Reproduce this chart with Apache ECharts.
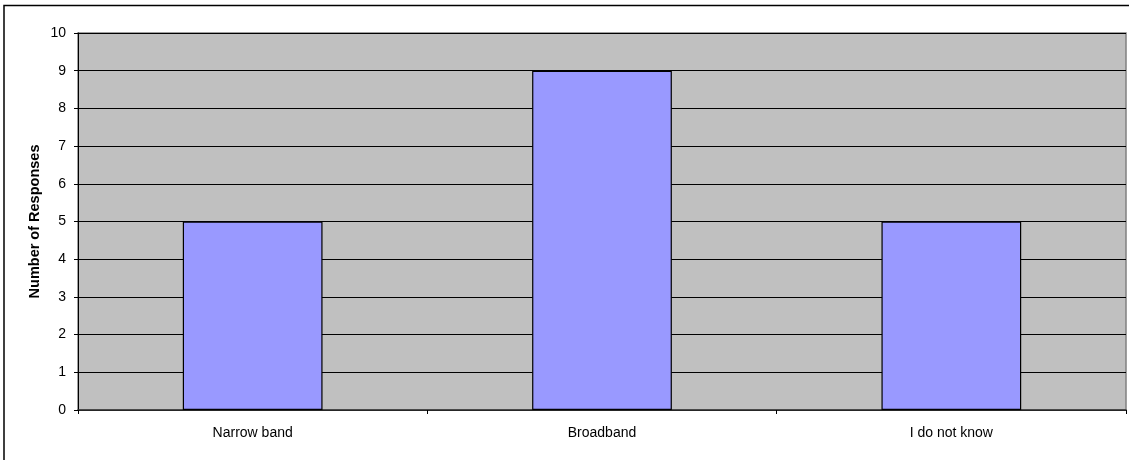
<!DOCTYPE html>
<html>
<head>
<meta charset="utf-8">
<script src="https://cdn.jsdelivr.net/npm/echarts@6/dist/echarts.min.js"></script>
<style>
  html, body { margin: 0; padding: 0; background: #fff; }
  #chart { width: 1129px; height: 460px; }
</style>
</head>
<body>
<div id="chart"></div>
<script>
// Survey responses by connection type
const categories = ['Narrow band', 'Broadband', 'I do not know'];
const responses = [5, 9, 5];
const yTicks = { min: 0, max: 10, interval: 1 };

const chart = echarts.init(document.getElementById('chart'), null, { renderer: 'canvas' });

chart.setOption({
  animation: false,
  backgroundColor: '#ffffff',
  textStyle: { fontFamily: 'Liberation Sans, Arial, sans-serif' },
  graphic: [{
    type: 'rect',
    shape: { x: 4, y: 5.5, width: 1140, height: 470 },
    style: { fill: 'none', stroke: '#000', lineWidth: 1.5 },
    silent: true,
    z: -1
  }],
  grid: {
    left: 78, right: 3, top: 33, bottom: 50,
    show: true,
    backgroundColor: '#C0C0C0',
    borderColor: '#808080',
    borderWidth: 1.5
  },
  xAxis: {
    type: 'category',
    data: categories,
    axisLine: { show: true, lineStyle: { color: '#333', width: 1.5 } },
    axisTick: { show: true, length: 4, inside: false, alignWithLabel: false, lineStyle: { color: '#000' } },
    axisLabel: { color: '#000', fontSize: 14, margin: 16 }
  },
  yAxis: {
    type: 'value',
    min: yTicks.min, max: yTicks.max, interval: yTicks.interval,
    name: 'Number of Responses',
    nameLocation: 'middle',
    nameGap: 36,
    nameMoveOverlap: false,
    nameTextStyle: { color: '#000', fontSize: 14.5, fontWeight: 'bold' },
    axisLine: { show: true, lineStyle: { color: '#000', width: 1 } },
    axisTick: { show: true, length: 4, lineStyle: { color: '#000' } },
    axisLabel: { color: '#000', fontSize: 14, margin: 12 },
    splitLine: { show: true, lineStyle: { color: '#000', width: 1 } }
  },
  series: [{
    type: 'bar',
    data: responses,
    barWidth: '40%',
    itemStyle: { color: '#9999FF', borderColor: '#000', borderWidth: 1.2 }
  }]
});
</script>
</body>
</html>
